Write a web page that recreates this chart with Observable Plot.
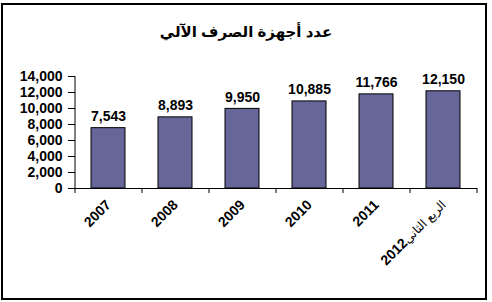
<!DOCTYPE html>
<html>
<head>
<meta charset="utf-8">
<script src="https://cdn.jsdelivr.net/npm/d3@7"></script>
<script src="https://cdn.jsdelivr.net/npm/@observablehq/plot@0.6"></script>
<style>
  html, body { margin: 0; padding: 0; background: #fff; }
  body { width: 492px; height: 302px; position: relative; overflow: hidden;
         font-family: "Liberation Sans", Arial, "DejaVu Sans", sans-serif; }
  #title { height: 55px; box-sizing: border-box; padding-top: 22px; text-align: center;
           font-weight: bold; font-size: 15px; line-height: 20px; color: #000; }
  #frame { position: absolute; left: 1px; top: 3px; width: 486px; height: 297px;
           box-sizing: border-box; border: 2px solid #000; pointer-events: none; }
  #chart svg { display: block; }
</style>
</head>
<body>
<div id="title">عدد أجهزة الصرف الآلي</div>
<div id="chart"></div>
<div id="frame"></div>
<script>
const categories = ["2007", "2008", "2009", "2010", "2011", "الربع الثاني2012"];
const values = [7543, 8893, 9950, 10885, 11766, 12150];
const yTicks = [0, 2000, 4000, 6000, 8000, 10000, 12000, 14000];

const data = categories.map((c, i) => ({category: c, value: values[i]}));

const W = 492, H = 247, mL = 75, mR = 15, mT = 21, mB = 114;
const bw = (W - mL - mR) / categories.length;
const fmt = d3.format(",");

const chart = Plot.plot({
  width: W,
  height: H,
  marginLeft: mL,
  marginRight: mR,
  marginTop: mT,
  marginBottom: mB,
  style: {fontFamily: '"Liberation Sans", Arial, "DejaVu Sans", sans-serif', fontWeight: "bold", fontSize: "14px", color: "#000", background: "transparent"},
  x: {domain: categories, paddingInner: 0.49, paddingOuter: 0.245, label: null},
  y: {domain: [0, 14000], label: null},
  marks: [
    Plot.barY(data, {x: "category", y: "value", fill: "#666699", stroke: "#000", strokeWidth: 1}),
    Plot.ruleY([0], {stroke: "#000", strokeWidth: 1}),
    Plot.ruleX([categories[0]], {dx: -bw / 2, stroke: "#000", strokeWidth: 1}),
    Plot.ruleX(categories, {x: d => d, y1: 0, y2: 0, dx: -bw / 2, insetBottom: -5, stroke: "#000"}),
    Plot.ruleX([categories[categories.length - 1]], {y1: 0, y2: 0, dx: bw / 2, insetBottom: -5, stroke: "#000"}),
    Plot.axisY({ticks: yTicks, tickSize: 7, tickPadding: 6, tickFormat: fmt, fontSize: 14, fontWeight: "bold"}),
    Plot.axisX({tickSize: 0, tickPadding: 14, tickRotate: -45, fontSize: 14, fontWeight: "bold"}),
    Plot.text(data, {x: "category", y: "value", text: d => fmt(d.value), lineAnchor: "bottom", dy: -7, fontSize: 14, fontWeight: "bold", fill: "#000"})
  ]
});

// Lighter, smaller Arabic words inside the last category label (as in the reference)
const last = categories[categories.length - 1];
const m = last.match(/^(\D+)(\d+)$/);
if (m) {
  d3.select(chart).selectAll("text").filter(function () { return this.textContent === last; })
    .each(function () {
      const t = d3.select(this);
      t.text(null);
      t.append("tspan").attr("font-weight", "normal").attr("font-size", 12).text(m[1]);
      t.append("tspan").attr("font-weight", "bold").text(m[2]);
    });
}
document.getElementById("chart").appendChild(chart);
</script>
</body>
</html>
